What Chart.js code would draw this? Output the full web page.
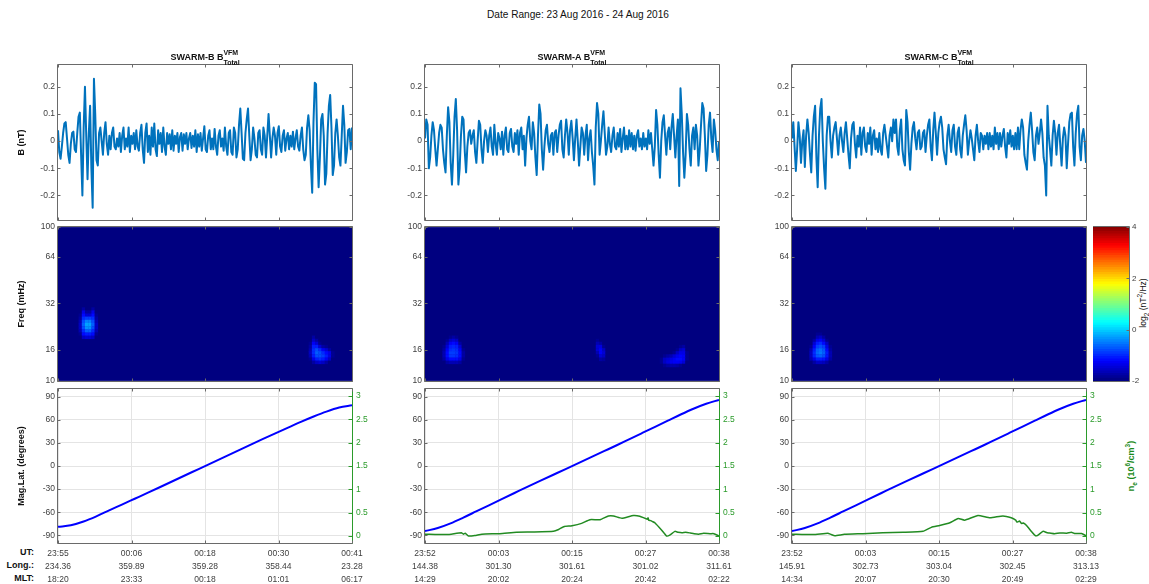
<!DOCTYPE html>
<html>
<head>
<meta charset="utf-8">
<script src="https://cdn.jsdelivr.net/npm/chart.js@4"></script>
<style>
  html, body { margin: 0; padding: 0; background: #fff; }
  body { width: 1149px; height: 584px; position: relative; overflow: hidden; font-family: "Liberation Sans", sans-serif; filter: blur(0.4px); }
  canvas { position: absolute; }
  .txt { position: absolute; white-space: nowrap; color: #111; }
  .suptitle { top: 8px; left: 578px; transform: translateX(-50%); font-size: 10.1px; line-height: 13px; }
  .ptitle { top: 46px; transform: translateX(-50%); font-size: 9px; font-weight: bold; line-height: 15px; display: flex; align-items: center; }
  .stack { display: inline-flex; flex-direction: column; font-size: 7px; line-height: 10px; margin-top: 2px; }
  .rowlab { left: 0; width: 34px; text-align: right; font-size: 9px; font-weight: bold; line-height: 13px; }
  .vert { transform: translate(-50%, -50%) rotate(-90deg); }
  .vert sub, .vert sup { font-size: 6.5px; line-height: 0; }
</style>
</head>
<body>
<div class="txt suptitle">Date Range: 23 Aug 2016 - 24 Aug 2016</div>
<div class="txt rowlab" style="top:546px">UT:</div>
<div class="txt rowlab" style="top:559px">Long.:</div>
<div class="txt rowlab" style="top:572px">MLT:</div>
<div class="txt vert" style="left:1131px;top:466px;font-size:9px;font-weight:bold;color:#1a8a1a">n<sub>e</sub> (10<sup>6</sup>/cm<sup>3</sup>)</div>
<div class="txt vert" style="left:1143px;top:303px;font-size:8.5px">log<sub>2</sub> (nT<sup>2</sup>/Hz)</div>
<script>
const titles = ['SWARM-B', 'SWARM-A', 'SWARM-C'];

const traceB = [
  .04,-.04,-.065,-.02,.03,.065,.07,.01,-.05,-.08,
  -.01,.03,.035,-.03,-.04,.03,.09,.105,-.05,-.2,
  .05,.2,.02,-.14,.03,.13,-.1,-.245,.23,.1,
  -.07,-.09,.03,.05,0,-.05,.03,.07,-.01,-.05,
  .02,-.03,.03,.05,-.02,-.03,.01,-.02,.03,-.04,
  .02,.05,-.03,.01,-.02,.05,-.04,.02,-.01,.03,
  -.03,.04,-.02,-.035,.03,.06,-.03,-.08,.03,.065,
  -.04,.02,-.05,.05,-.02,.065,-.03,-.055,.04,-.01,
  .03,-.04,.05,-.02,-.05,.03,-.01,.025,-.03,.04,
  -.035,.02,-.01,.03,-.04,.015,.03,-.035,.025,-.01,
  .03,-.03,.01,.03,-.025,.02,-.02,.04,-.04,.025,
  -.02,.03,-.035,.01,.055,-.03,-.04,.02,.04,-.03,
  .01,-.03,.045,-.02,-.05,.02,.04,-.02,.01,-.035,
  .05,-.02,-.05,.03,.04,-.04,-.05,.05,.03,-.06,
  -.03,.06,.12,.03,-.065,-.07,.03,.08,.12,.02,
  -.07,-.03,.05,.01,-.05,-.06,.03,.04,-.03,-.05,
  .05,.02,-.06,.02,.1,.02,-.06,.01,.05,.02,
  -.05,.03,.055,-.02,-.04,.02,.04,-.035,.01,.03,
  -.03,.02,-.02,.035,-.03,.01,.04,-.02,-.035,.02,
  .05,-.03,-.07,-.05,.05,.095,.04,-.09,-.19,.07,
  .215,.21,-.03,-.17,-.06,.08,.1,.02,-.16,-.12,
  .03,.13,.17,.05,-.125,-.09,.03,.08,.02,-.06,
  -.09,.02,.13,.06,-.08,-.04,.04,.045,-.03,.05
];
const traceA = [
  .01,.08,.06,-.1,-.06,.02,.07,.04,-.03,-.09,
  -.03,.03,.06,.05,-.03,-.08,-.115,.02,.125,.07,
  -.08,-.16,-.05,.09,.155,.04,-.16,-.1,.02,.09,
  .08,-.04,-.115,-.02,.03,.04,-.01,.02,.04,-.04,
  -.08,0,.075,.06,-.03,-.08,0,.04,.02,-.04,
  .02,.05,-.02,-.05,.06,-.01,-.05,.03,.01,-.03,
  .035,-.05,.02,.05,-.03,-.04,.03,.045,-.02,-.04,
  .03,-.01,.04,-.05,.03,.05,-.03,.02,-.09,.01,
  .06,.09,0,-.03,.07,.03,-.06,-.125,.02,.135,
  .1,-.03,-.105,-.02,.04,.06,-.01,-.04,.02,.03,
  -.05,.03,.04,-.04,.02,.06,.075,-.03,-.06,.02,
  .08,.03,-.05,.04,.075,.01,-.07,.01,.08,0,
  -.09,-.02,.05,.03,-.05,.02,.06,-.07,.01,.04,
  -.04,-.09,-.16,.05,.14,.1,-.05,0,.06,.11,
  .03,-.05,-.02,.05,-.01,-.04,.02,.05,-.02,-.03,
  .03,-.02,.045,-.04,.01,.05,-.03,.02,-.03,.04,
  -.02,.03,-.03,.02,-.035,.02,.04,-.02,.01,-.03,
  .03,-.02,.01,-.03,.04,-.01,.03,-.03,-.09,-.02,
  .115,.06,-.05,-.135,0,.07,.095,.02,-.05,.03,
  .05,-.03,.05,.1,.02,-.06,.02,.08,-.165,.195,
  .1,-.04,-.135,-.05,.1,.06,-.03,-.09,.02,.05,
  -.03,.06,.02,-.09,-.03,.06,.14,.12,.02,-.11,
  -.05,.06,.105,.01,-.04,.08,.04,-.03,-.07,0
];
const traceC = [
  .01,.07,-.02,-.11,-.03,.07,.02,-.08,0,.04,
  -.095,.02,.08,.03,-.05,-.115,.02,.09,.13,-.06,
  -.17,.02,.12,.155,0,-.1,-.175,.02,.09,.09,
  0,-.06,.02,.05,.07,.01,-.05,.02,.05,0,
  -.04,.03,.07,.01,-.05,-.1,.01,.06,.07,-.01,
  -.06,.02,-.02,.05,-.05,.03,.05,-.02,-.04,.03,
  -.01,.05,-.05,.02,.04,-.03,.01,-.04,.03,-.03,
  -.05,.03,.06,.02,-.02,-.06,.02,.05,0,.08,
  .03,.08,-.02,-.05,.04,.08,-.03,-.07,-.09,.115,
  .07,-.04,-.105,-.01,.05,.07,.01,-.03,.03,.04,
  -.03,-.02,.03,.04,-.04,.02,.06,.08,-.02,-.07,
  .04,.105,.03,-.05,.03,.07,.09,.05,-.03,-.06,
  -.085,.02,.06,0,-.04,.04,.06,-.02,-.05,.03,
  .05,-.03,-.06,.02,.06,.095,.04,-.05,0,.04,
  .01,-.03,-.07,.02,.06,0,-.04,.03,.02,-.03,
  .02,-.01,.03,-.03,.03,-.02,.02,-.03,.05,-.01,
  .03,-.03,.03,-.02,.02,.045,-.02,-.06,.03,-.01,
  .04,-.02,.02,-.03,.03,-.03,.05,-.03,.04,.08,
  .05,-.05,-.08,-.105,0,.06,.105,.04,-.04,-.07,
  .02,.05,-.01,.03,.08,.03,-.06,-.09,-.2,.13,
  .02,-.03,-.09,.02,.075,.03,-.05,.03,.06,-.02,
  -.09,.01,.05,.02,-.1,-.01,.07,.1,.105,-.02,
  -.09,.03,.1,.13,-.02,-.07,.02,.045,0,-.08
];

// spectrogram blobs: first time (min), then rows of log2 power from the top row down
const specFreqs = [12.0,12.6,13.2,13.8,14.5,15.2,15.9,16.7,17.5,18.3,19.2,20.1,21.1,22.1,23.2,24.3,25.5,26.7,28.0,29.3];
const specB = [
  { t0: 3.5, topRow: 19, rows: [
    [-2,-1.8,-2,-2,-1.8,-2],
    [-2,-1.4,-1.8,-1.8,-1.4,-2],
    [-1.9,-1.2,-1.5,-1.5,-1.2,-1.9],
    [-1.8,-1,-.9,-.9,-1,-1.8],
    [-1.7,-.8,-.5,-.5,-.8,-1.7],
    [-1.6,-.7,-.3,-.3,-.7,-1.6],
    [-1.6,-.8,-.4,-.4,-.8,-1.6],
    [-1.7,-1,-.7,-.7,-1,-1.7],
    [-1.9,-1.2,-1.1,-1.1,-1.2,-1.9],
    [-2,-1.6,-1.5,-1.5,-1.6,-2]
  ]},
  { t0: 39.5, topRow: 10, rows: [
    [-2,-1.8,-2,-2,-2,-2,-2,-2],
    [-2,-1.6,-1.8,-2,-2,-2,-2,-2],
    [-1.9,-1.3,-1.5,-1.9,-2,-2,-2,-2],
    [-1.8,-1.1,-1.1,-1.5,-1.8,-1.9,-2,-2],
    [-1.7,-1,-.8,-1,-1.3,-1.5,-1.8,-2],
    [-1.6,-1,-.7,-.8,-1,-1.2,-1.4,-1.9],
    [-1.7,-1.1,-.8,-.8,-.9,-1.1,-1.4,-1.9],
    [-1.9,-1.4,-1.1,-1,-1.1,-1.3,-1.6,-2],
    [-2,-1.8,-1.6,-1.5,-1.6,-1.8,-2,-2]
  ]}
];
const specA = [
  { t0: 3, topRow: 10, rows: [
    [-2,-2,-1.9,-1.8,-1.9,-2,-2],
    [-2,-1.9,-1.6,-1.5,-1.6,-2,-2],
    [-2,-1.7,-1.3,-1.2,-1.3,-1.8,-2],
    [-1.9,-1.5,-1.1,-1.05,-1.1,-1.5,-2],
    [-1.8,-1.3,-1,-.95,-1,-1.3,-1.9],
    [-1.7,-1.2,-.9,-.9,-.95,-1.2,-1.8],
    [-1.7,-1.2,-.95,-.95,-1,-1.2,-1.8],
    [-1.8,-1.4,-1.2,-1.2,-1.2,-1.4,-1.9],
    [-2,-1.8,-1.7,-1.7,-1.7,-1.8,-2]
  ]},
  { t0: 26.5, topRow: 9, rows: [
    [-2,-1.9,-2,-2,-2],
    [-2,-1.7,-1.8,-2,-2],
    [-2,-1.5,-1.45,-1.9,-2],
    [-2,-1.5,-1.3,-1.6,-2],
    [-2,-1.7,-1.3,-1.5,-2],
    [-2,-1.9,-1.5,-1.6,-2],
    [-2,-2,-1.8,-1.85,-2]
  ]},
  { t0: 37, topRow: 7, rows: [
    [-2,-2,-2,-2,-2,-2,-1.9,-1.8,-2],
    [-2,-2,-2,-2,-2,-1.9,-1.6,-1.5,-2],
    [-2,-2,-2,-2,-1.9,-1.6,-1.4,-1.4,-1.9],
    [-2,-1.9,-1.8,-1.7,-1.5,-1.35,-1.25,-1.3,-1.9],
    [-1.9,-1.6,-1.5,-1.4,-1.3,-1.2,-1.2,-1.3,-1.9],
    [-1.9,-1.6,-1.45,-1.35,-1.3,-1.3,-1.35,-1.5,-2],
    [-2,-1.9,-1.8,-1.75,-1.75,-1.8,-1.9,-2,-2]
  ]}
];
const specC = [
  { t0: 3, topRow: 11, rows: [
    [-2,-2,-1.9,-1.9,-2,-2,-2],
    [-2,-2,-1.7,-1.6,-1.8,-2,-2],
    [-2,-1.8,-1.4,-1.3,-1.5,-1.9,-2],
    [-2,-1.5,-1.1,-1,-1.2,-1.6,-2],
    [-1.9,-1.3,-.9,-.8,-.9,-1.4,-1.9],
    [-1.7,-1.1,-.7,-.6,-.75,-1.2,-1.8],
    [-1.6,-1,-.65,-.55,-.7,-1.1,-1.7],
    [-1.6,-1.05,-.75,-.7,-.8,-1.15,-1.7],
    [-1.7,-1.4,-1.1,-1.1,-1.15,-1.4,-1.8],
    [-2,-1.8,-1.6,-1.6,-1.65,-1.8,-2]
  ]}
];

const latTimes = [0,2,4,6,8,10,12,14,16,18,20,22,24,26,28,30,32,34,36,38,40,42,44,46];
const latB = [-79,-76.9,-72,-65.3,-57.6,-50.1,-42.5,-34.9,-27.2,-19.4,-11.6,-3.9,3.9,11.6,19.4,27.2,34.9,42.5,50,57.4,64.4,70.8,76,79];
const latA = [-84.5,-80.5,-74.5,-67,-59,-51,-43,-35,-27,-19.3,-11.6,-3.9,3.9,11.6,19.3,27,35,43,51,59,67,74.5,81,86];
const latC = [-84.5,-80.5,-74.5,-67,-59,-51,-43,-35,-27,-19.3,-11.6,-3.9,3.9,11.6,19.3,27,35,43,51,59,67,74.5,81,86];

const neTimesA = [0,3.4,5.7,6,6.3,6.8,7.8,8.9,11.7,14.3,17,20.1,20.9,21.7,23,24.5,25.8,27.4,28.7,29.5,30.8,32.6,33.6,34.8,34.9,35,35.3,35.6,36,37,37.8,38.3,39.1,39.6,40.2,40.8,41.5,42.1,42.8,43.6,44.6,45.2,46];
const neA = [.04,.03,.07,.04,.06,0,.01,.04,.05,.08,.085,.1,.14,.2,.22,.27,.35,.35,.43,.43,.38,.44,.425,.36,.39,.34,.33,.31,.28,.13,0,.02,.1,.08,.07,.08,.065,.05,.04,.06,.05,.05,0];
const neTimesC = [0,3.3,5.6,6.1,6.7,8.2,11.1,14.2,17.4,20.5,21.8,23.1,24.7,26,27,29.1,31,33,34.3,35,35.2,35.6,35.9,36.2,36.7,37.5,38.1,38.5,39.3,39.9,40.3,41.1,41.9,43,43.7,44.2,45.3,46];
const neC = [.04,.03,.06,.035,.005,.035,.05,.07,.08,.1,.185,.225,.285,.375,.34,.44,.39,.43,.39,.34,.3,.32,.27,.28,.225,.09,.005,.02,.1,.07,.065,.05,.065,.06,.08,.055,.055,.005];

const xTicks = [0, 11.5, 23, 34.5, 46];
const utLabels = [
  ['23:55','00:06','00:18','00:30','00:41'],
  ['23:52','00:03','00:15','00:27','00:38'],
  ['23:52','00:03','00:15','00:27','00:38']
];
const longLabels = [
  ['234.36','359.89','359.28','358.44','23.28'],
  ['144.38','301.30','301.61','301.02','311.61'],
  ['145.91','302.73','303.04','302.45','313.13']
];
const mltLabels = [
  ['18:20','23:33','00:18','01:01','06:17'],
  ['14:29','20:02','20:24','20:42','02:22'],
  ['14:34','20:07','20:30','20:49','02:29']
];
const bTicks = [-0.2, -0.1, 0, 0.1, 0.2];
const freqTicks = [10, 16, 32, 64, 100];
const latTicks = [-90, -60, -30, 0, 30, 60, 90];
const neTicks = [0, 0.5, 1, 1.5, 2, 2.5, 3];
const cbarTicks = [-2, 0, 2, 4];

const tickColor = '#404040';
const frameColor = '#6a6a6a';
const greenColor = '#2b9b2b';
const colLeft = [58, 425, 792];
const plotW = 294;
const rowTop = [65, 227, 388];
const rowH = [155, 154, 155];
const pad = 8;

Chart.defaults.font.family = '"Liberation Sans", sans-serif';
Chart.defaults.font.size = 8.5;
Chart.defaults.color = tickColor;

// MATLAB jet, with the colour limits of the colourbar
function jet(v) {
  const f = (v + 2) / 6;
  const chan = c => Math.round(255 * Math.max(0, Math.min(1, 1.5 - Math.abs(4 * f - c))));
  return 'rgb(' + chan(3) + ',' + chan(2) + ',' + chan(1) + ')';
}

// box with inward ticks on all sides, like MATLAB's "box on"
const framePlugin = {
  id: 'frame',
  beforeDatasetsDraw(chart, args, opts) {
    if (!opts.bg) return;
    const a = chart.chartArea;
    chart.ctx.fillStyle = opts.bg;
    chart.ctx.fillRect(a.left, a.top, a.right - a.left, a.bottom - a.top);
  },
  afterDatasetsDraw(chart, args, opts) {
    const a = chart.chartArea, ctx = chart.ctx, s = chart.scales;
    ctx.save();
    ctx.lineWidth = 1;
    const L = Math.round(a.left) - 0.5, R = Math.round(a.right) + 0.5;
    const T = Math.round(a.top) - 0.5, B = Math.round(a.bottom) + 0.5;
    const seg = (x1, y1, x2, y2, c) => {
      ctx.strokeStyle = c;
      ctx.beginPath(); ctx.moveTo(x1, y1); ctx.lineTo(x2, y2); ctx.stroke();
    };
    seg(L, T, R, T, frameColor);
    seg(L, B, R, B, frameColor);
    seg(L, T, L, B, frameColor);
    seg(R, T, R, B, s.y1 ? greenColor : frameColor);
    if (s.x && s.x.type === 'linear') s.x.ticks.forEach(t => {
      const x = Math.round(s.x.getPixelForValue(t.value)) + 0.5;
      seg(x, B, x, B - 3, frameColor);
      seg(x, T, x, T + 3, frameColor);
    });
    s.y.ticks.forEach(t => {
      const y = Math.round(s.y.getPixelForValue(t.value)) + 0.5;
      if (s.x.type === 'linear') seg(L, y, L + 3, y, frameColor);
      if (!s.y1) seg(R, y, R - 3, y, frameColor);
    });
    if (s.y1) s.y1.ticks.forEach(t => {
      const y = Math.round(s.y1.getPixelForValue(t.value)) + 0.5;
      seg(R, y, R - 4, y, greenColor);
    });
    ctx.restore();
  }
};
Chart.register(framePlugin);

function addCanvas(left, top, w, h) {
  const c = document.createElement('canvas');
  c.width = w; c.height = h;
  c.style.left = left + 'px'; c.style.top = top + 'px';
  c.style.width = w + 'px'; c.style.height = h + 'px';
  document.body.appendChild(c);
  return c;
}

function fixedTicks(values) {
  return s => { s.ticks = values.map(v => ({ value: v })); };
}

function xScale(col, withLabels) {
  return {
    type: 'linear', min: 0, max: 46,
    afterBuildTicks: fixedTicks(xTicks),
    afterFit: s => { s.height = withLabels ? 44 : 0; },
    border: { display: false },
    grid: { display: withLabels, color: '#e4e4e4', drawTicks: false },
    ticks: {
      display: withLabels, autoSkip: false, maxRotation: 0, padding: 4,
      font: { size: 8.5, lineHeight: 13 / 8.5 },
      callback: (v, i) => [utLabels[col][i], longLabels[col][i], mltLabels[col][i]]
    }
  };
}

function yScale(opts, values, title) {
  return Object.assign({
    afterBuildTicks: fixedTicks(values),
    afterFit: s => { s.width = 58; },
    border: { display: false },
    grid: { display: false, drawTicks: false },
    ticks: { padding: 3, autoSkip: false, callback: v => String(v) },
    title: { display: !!title, text: title, color: '#111', font: { size: 9, weight: 'bold' }, padding: { top: 16, bottom: 0 } }
  }, opts);
}

function makeChart(col, row, datasets, scales, frame) {
  const hasRight = !!scales.y1;
  const below = row === 2 ? 44 : pad;
  const w = 58 + plotW + 30;
  return new Chart(addCanvas(colLeft[col] - 58, rowTop[row] - pad, w, pad + rowH[row] + below), {
    type: 'line',
    data: { datasets },
    options: {
      responsive: false,
      animation: false,
      parsing: false,
      normalized: true,
      layout: { padding: { top: pad, bottom: row === 2 ? 0 : pad, right: hasRight ? 0 : 30 } },
      scales,
      plugins: { legend: { display: false }, tooltip: { enabled: false }, frame: frame || {} }
    }
  });
}

// top row: the field residuals
[traceB, traceA, traceC].forEach((trace, col) => {
  makeChart(col, 0, [{
    data: trace.map((v, i) => ({ x: i * 46 / (trace.length - 1), y: v })),
    borderColor: '#0072BD', borderWidth: 2, pointRadius: 0, tension: 0, borderJoinStyle: 'round'
  }], {
    x: xScale(col, false),
    y: yScale({ type: 'linear', min: -0.29, max: 0.28 }, bTicks, col === 0 ? 'B (nT)' : '')
  });
});

// middle row: spectrograms, each cell a square point at its time and frequency
[specB, specA, specC].forEach((blobs, col) => {
  const cells = [], colours = [];
  blobs.forEach(b => b.rows.forEach((r, i) => r.forEach((v, j) => {
    cells.push({ x: b.t0 + j * 0.5, y: specFreqs[b.topRow - i] });
    colours.push(jet(v));
  })));
  makeChart(col, 1, [{
    data: cells, showLine: false, pointStyle: 'rect', pointRadius: 2.5, pointBorderWidth: 0,
    pointBackgroundColor: colours
  }], {
    x: xScale(col, false),
    y: yScale({ type: 'logarithmic', min: 10, max: 100 }, freqTicks, col === 0 ? 'Freq (mHz)' : '')
  }, { bg: jet(-2) });
});

// bottom row: magnetic latitude and electron density
const neSets = [null, [neTimesA, neA], [neTimesC, neC]];
[latB, latA, latC].forEach((lat, col) => {
  const sets = [{
    data: lat.map((v, i) => ({ x: latTimes[i], y: v })), yAxisID: 'y',
    borderColor: '#0000ff', borderWidth: 2, pointRadius: 0, cubicInterpolationMode: 'monotone'
  }];
  if (neSets[col]) sets.push({
    data: neSets[col][1].map((v, i) => ({ x: neSets[col][0][i], y: v })), yAxisID: 'y1',
    borderColor: '#228b22', borderWidth: 1.5, pointRadius: 0, tension: 0.15
  });
  const y = yScale({ type: 'linear', min: -100, max: 100 }, latTicks, col === 0 ? 'Mag.Lat. (degrees)' : '');
  y.grid = { display: true, color: '#e4e4e4', drawTicks: false };
  makeChart(col, 2, sets, {
    x: xScale(col, true),
    y: y,
    y1: {
      type: 'linear', position: 'right', min: -0.15, max: 3.15,
      afterBuildTicks: fixedTicks(neTicks),
      afterFit: s => { s.width = 30; },
      border: { display: false },
      grid: { display: false, drawTicks: false },
      ticks: { color: greenColor, padding: 4, autoSkip: false, callback: v => String(v) }
    }
  });
});

// colourbar: 64 floating bars stacked on the same category
const cbarSets = [];
for (let k = 0; k < 64; k++) {
  const lo = -2 + k * 6 / 64;
  cbarSets.push({ data: [[lo, lo + 6 / 64 + 0.02]], backgroundColor: jet(lo + 3 / 64), grouped: false, categoryPercentage: 1, barPercentage: 1, borderWidth: 0 });
}
new Chart(addCanvas(1093, 227 - pad, 56, 154 + 2 * pad), {
  type: 'bar',
  data: { labels: [''], datasets: cbarSets },
  options: {
    responsive: false,
    animation: false,
    layout: { padding: { top: pad, bottom: pad } },
    scales: {
      x: { type: 'category', display: false },
      y: {
        type: 'linear', position: 'right', min: -2, max: 4,
        afterBuildTicks: fixedTicks(cbarTicks),
        afterFit: s => { s.width = 20; },
        border: { display: false },
        grid: { display: false, drawTicks: false },
        ticks: { padding: 3, font: { size: 8 }, callback: v => String(v) }
      }
    },
    plugins: { legend: { display: false }, tooltip: { enabled: false } }
  }
});

titles.forEach((t, i) => {
  const d = document.createElement('div');
  d.className = 'txt ptitle';
  d.style.left = (colLeft[i] + plotW / 2) + 'px';
  d.innerHTML = '<span>' + t + ' B</span><span class="stack"><span>VFM</span><span>Total</span></span>';
  document.body.appendChild(d);
});
</script>
</body>
</html>
